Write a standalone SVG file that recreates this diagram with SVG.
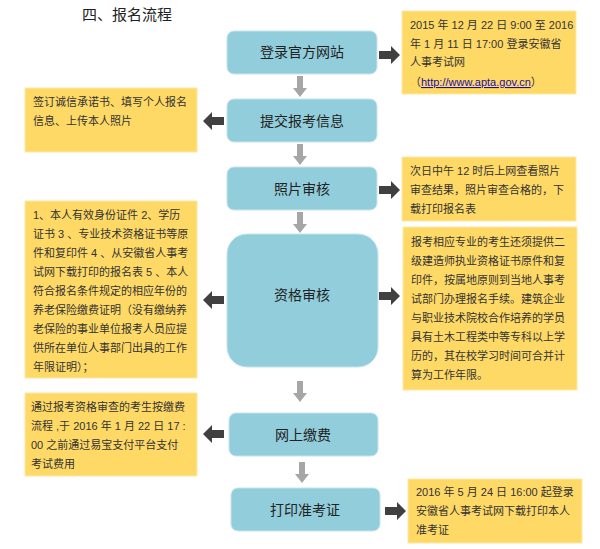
<svg xmlns="http://www.w3.org/2000/svg" width="600" height="549" viewBox="0 0 600 549">
<defs>
<style>
.b{fill:#92cddc;stroke:#c6e4ec;stroke-width:1}
.y{fill:#fed966;stroke:#fde9a8;stroke-width:1}
.t{font-family:"Liberation Sans","Noto Sans CJK SC",sans-serif;font-size:11px;fill:#333}
.n{font-family:"Liberation Sans","Noto Sans CJK SC",sans-serif;font-size:14px;fill:#222;text-anchor:middle}
.g{fill:#a6a6a6}
.d{fill:#404040}
</style>
<path id="down" class="g" d="M-3,0H3V12H7L0,21L-7,12H-3Z"/>
<path id="right" class="d" d="M0,-4H12V-9L21,0L12,9V-4H0Z" transform="scale(1)"/>
<path id="left" class="d" d="M0,-4H-12V-9L-21,0L-12,9V-4H0Z"/>
</defs>
<rect width="600" height="549" fill="#fff"/>
<text x="82" y="20" font-family="Liberation Sans,Noto Sans CJK SC,sans-serif" font-size="15" fill="#222">四、报名流程</text>
<g id="connectors">
<use href="#down" x="300" y="76"/>
<use href="#down" x="300" y="144"/>
<use href="#down" x="300" y="212"/>
<use href="#down" x="300" y="381"/>
<use href="#down" x="302" y="462"/>
<path class="d" d="M379,51H391V46L400,55L391,64V59H379Z"/>
<path class="d" d="M379,186H391V181L400,190L391,199V194H379Z"/>
<path class="d" d="M379,292H391V287L400,296L391,305V300H379Z"/>
<path class="d" d="M385,507H397V502L406,511L397,520V515H385Z"/>
<path class="d" d="M224,117H212V112L203,121L212,130V125H224Z"/>
<path class="d" d="M224,296H212V291L203,300L212,309V304H224Z"/>
<path class="d" d="M224,430H212V425L203,434L212,443V438H224Z"/>
</g>
<g id="n1"><rect class="b" x="227" y="31" width="150" height="43" rx="7"/><text class="n" x="302" y="57">登录官方网站</text></g>
<g id="n2"><rect class="b" x="227" y="99" width="150" height="43" rx="7"/><text class="n" x="302" y="126">提交报考信息</text></g>
<g id="n3"><rect class="b" x="227" y="167" width="150" height="43" rx="7"/><text class="n" x="302" y="194">照片审核</text></g>
<g id="n4"><rect class="b" x="227" y="234" width="151" height="133" rx="20"/><text class="n" x="302" y="300">资格审核</text></g>
<g id="n5"><rect class="b" x="229" y="413" width="149" height="43" rx="7"/><text class="n" x="303" y="440">网上缴费</text></g>
<g id="n6"><rect class="b" x="231" y="488" width="149" height="43" rx="7"/><text class="n" x="305" y="515">打印准考证</text></g>
<g id="r1"><rect class="y" x="402" y="11" width="174" height="83"/>
<text class="t" x="410" y="29">2015 年 12 月 22 日 9:00 至 2016</text>
<text class="t" x="410" y="48">年 1 月 11 日 17:00 登录安徽省</text>
<text class="t" x="410" y="66">人事考试网</text>
<text class="t" x="410" y="86">（<tspan fill="#1a0dab" text-decoration="underline">http://www.apta.gov.cn</tspan>）</text></g>
<g id="l1"><rect class="y" x="25" y="88" width="172" height="64"/>
<text class="t" x="33" y="106">签订诚信承诺书、填写个人报名</text>
<text class="t" x="33" y="125">信息、上传本人照片</text></g>
<g id="r2"><rect class="y" x="402" y="157" width="174" height="64"/>
<text class="t" x="410" y="175">次日中午 12 时后上网查看照片</text>
<text class="t" x="410" y="194">审查结果，照片审查合格的，下</text>
<text class="t" x="410" y="213">载打印报名表</text></g>
<g id="l2"><rect class="y" x="25" y="201" width="172" height="177"/>
<text class="t" x="33" y="219"> 1、本人有效身份证件 2、学历</text>
<text class="t" x="33" y="238">证书 3 、专业技术资格证书等原</text>
<text class="t" x="33" y="257">件和复印件 4 、从安徽省人事考</text>
<text class="t" x="33" y="276">试网下载打印的报名表 5 、本人</text>
<text class="t" x="33" y="295">符合报名条件规定的相应年份的</text>
<text class="t" x="33" y="314">养老保险缴费证明（没有缴纳养</text>
<text class="t" x="33" y="333">老保险的事业单位报考人员应提</text>
<text class="t" x="33" y="352">供所在单位人事部门出具的工作</text>
<text class="t" x="33" y="371">年限证明）；</text></g>
<g id="r3"><rect class="y" x="403" y="227" width="174" height="163"/>
<text class="t" x="411" y="246">报考相应专业的考生还须提供二</text>
<text class="t" x="411" y="265">级建造师执业资格证书原件和复</text>
<text class="t" x="411" y="284">印件，按属地原则到当地人事考</text>
<text class="t" x="411" y="303">试部门办理报名手续。建筑企业</text>
<text class="t" x="411" y="322">与职业技术院校合作培养的学员</text>
<text class="t" x="411" y="341">具有土木工程类中等专科以上学</text>
<text class="t" x="411" y="360">历的，其在校学习时间可合并计</text>
<text class="t" x="411" y="379">算为工作年限。</text></g>
<g id="l3"><rect class="y" x="25" y="393" width="172" height="83"/>
<text class="t" x="31" y="411">通过报考资格审查的考生按缴费</text>
<text class="t" x="31" y="430">流程 ,于 2016 年 1 月 22 日 17 :</text>
<text class="t" x="31" y="449">00 之前通过易宝支付平台支付</text>
<text class="t" x="31" y="468">考试费用</text></g>
<g id="r4"><rect class="y" x="408" y="479" width="174" height="64"/>
<text class="t" x="416" y="496">2016 年 5 月 24 日 16:00 起登录</text>
<text class="t" x="416" y="515">安徽省人事考试网下载打印本人</text>
<text class="t" x="416" y="534">准考证</text></g>
</svg>
